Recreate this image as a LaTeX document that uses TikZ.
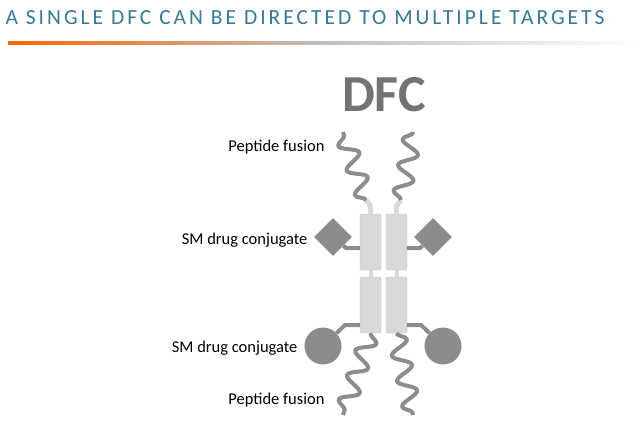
\documentclass[tikz,border=0pt]{standalone}
\usepackage{fontspec}
\setmainfont{Carlito}
\usetikzlibrary{decorations.pathmorphing, shapes.geometric}
\definecolor{titleteal}{RGB}{52,122,150}
\definecolor{domgray}{RGB}{217,217,217}
\definecolor{domedge}{RGB}{190,190,190}
\definecolor{linkgray}{RGB}{140,140,140}
\tikzset{
  chainbox/.style={draw=domedge, fill=domgray, rounded corners=2pt, minimum width=21pt, minimum height=56pt, inner sep=0pt},
  payload/.style={fill=linkgray, inner sep=0pt},
  link/.style={draw=linkgray, line width=4pt},
  peptide/.style={draw=linkgray, line width=4pt, line join=round, decorate, decoration={snake, segment length=26pt, amplitude=9pt}},
  lbl/.style={anchor=east, font=\fontsize{16.5}{18}\selectfont}
}
\begin{document}
\begin{tikzpicture}[x=1pt, y=-1pt]
\useasboundingbox (0,0) rectangle (640,437);
% title and rule
\node[anchor=west, text=titleteal, font=\fontsize{21.5}{24}\selectfont\addfontfeature{LetterSpace=14}] (title) at (2,18) {A SINGLE DFC CAN BE DIRECTED TO MULTIPLE TARGETS};
\shade[left color=orange!80!red, right color=white, middle color=gray!50] (8,41) rectangle (640,44);
\node[text=gray!90!black, font=\fontsize{52}{52}\selectfont\bfseries] (dfc) at (384,95) {DFC};
% chains
\node[chainbox] (ul) at (370.5,242) {};
\node[chainbox] (ur) at (396.5,242) {};
\node[chainbox] (ll) at (370.5,305) {};
\node[chainbox] (lr) at (396.5,305) {};
\draw[domgray, line width=4pt] (ul.south) -- (ll.north);
\draw[domgray, line width=4pt] (ur.south) -- (lr.north);
% hinges
\coordinate (hl) at (366,200);
\coordinate (hr) at (401,200);
\draw[domgray, line width=5pt] (ul.north) -- ++(0,-8) -- (hl);
\draw[domgray, line width=5pt] (ur.north) -- ++(0,-8) -- (hr);
% peptide fusions
\coordinate (ptl) at (343,132);
\coordinate (ptr) at (413,132);
\coordinate (pbl) at (343,415);
\coordinate (pbr) at (413,415);
\draw[peptide] (hl) -- (ptl);
\draw[peptide] (hr) -- (ptr);
\draw[peptide] (ll.south) -- (pbl);
\draw[peptide] (lr.south) -- (pbr);
% drug conjugates
\node[payload, diamond, minimum size=38pt] (dl) at (333,237) {};
\node[payload, diamond, minimum size=38pt] (dr) at (433,237) {};
\node[payload, circle, minimum size=37pt] (cl) at (323,346) {};
\node[payload, circle, minimum size=37pt] (cr) at (443,346) {};
\draw[link] (ul.west |- 0,248) -- (346,248) -- (dl);
\draw[link] (ur.east |- 0,248) -- (420,248) -- (dr);
\draw[link] (ll.west |- 0,325) -- (345,325) -- (cl);
\draw[link] (lr.east |- 0,325) -- (421,325) -- (cr);
% labels
\node[lbl] (lp1) at (328,147) {Peptide fusion};
\node[lbl] (ls1) at (311,240) {SM drug conjugate};
\node[lbl] (ls2) at (301,348) {SM drug conjugate};
\node[lbl] (lp2) at (328,400) {Peptide fusion};
\end{tikzpicture}
\end{document}
